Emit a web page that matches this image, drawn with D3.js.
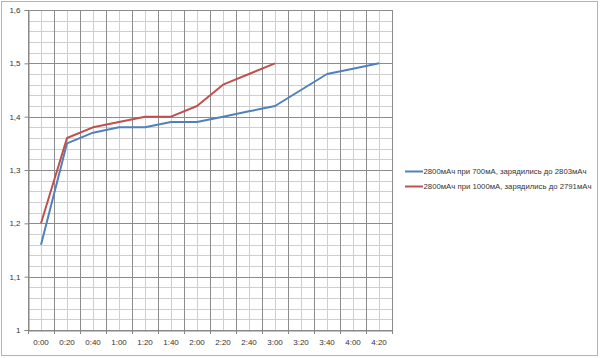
<!DOCTYPE html>
<html><head><meta charset="utf-8">
<script src="https://cdn.jsdelivr.net/npm/d3@7"></script>
<style>body{margin:0;background:#fff}svg{display:block}</style>
</head><body>
<svg id="c" width="600" height="358"></svg>
<script>
const categories = ["0:00","0:20","0:40","1:00","1:20","1:40","2:00","2:20","2:40","3:00","3:20","3:40","4:00","4:20"];
const series700 = [1.16,1.35,1.37,1.38,1.38,1.39,1.39,1.40,1.41,1.42,1.45,1.48,1.49,1.50];
const series1000 = [1.20,1.36,1.38,1.39,1.40,1.40,1.42,1.46,1.48,1.50];
const yTicks = [1,1.1,1.2,1.3,1.4,1.5,1.6];
const seriesNames = ["2800мАч при 700мА, зарядились до  2803мАч","2800мАч при 1000мА, зарядились до  2791мАч"];
const colors = ["#4F81BD","#C0504D"];

const svg = d3.select("#c");
const L=28, R=392, T=10, B=330;
const x = d3.scaleBand().domain(categories).range([L,R]).padding(0);
const y = d3.scaleLinear().domain([1,1.6]).range([B,T]);
const bw = x.bandwidth();
const font = "'Liberation Sans', Arial, sans-serif";

svg.append("rect").attr("x",1.5).attr("y",1.5).attr("width",596).attr("height",354)
  .attr("fill","#fff").attr("stroke","#b4b4b4").attr("stroke-width",1);

const g = svg.append("g");
// minor horizontal
const minorY = d3.range(0,31).map(i=>1+i*0.02).filter(v=>Math.abs(v*10-Math.round(v*10))>1e-6);
g.selectAll(".mh").data(minorY).join("line")
  .attr("x1",L).attr("x2",R).attr("y1",d=>Math.round(y(d))+0.5).attr("y2",d=>Math.round(y(d))+0.5)
  .attr("stroke","#cfcfcf");
// minor vertical at band centers
g.selectAll(".mv").data(categories).join("line")
  .attr("x1",d=>Math.round(x(d)+bw/2)+0.5).attr("x2",d=>Math.round(x(d)+bw/2)+0.5)
  .attr("y1",T).attr("y2",B).attr("stroke","#cfcfcf");
// major horizontal
g.selectAll(".Mh").data(yTicks).join("line")
  .attr("x1",L).attr("x2",R).attr("y1",d=>Math.round(y(d))+0.5).attr("y2",d=>Math.round(y(d))+0.5)
  .attr("stroke","#8c8c8c");
// major vertical at band edges
const edges = categories.map(c=>x(c)).concat([R]);
g.selectAll(".Mv").data(edges).join("line")
  .attr("x1",d=>Math.round(d)+0.5).attr("x2",d=>Math.round(d)+0.5)
  .attr("y1",T).attr("y2",B).attr("stroke","#8c8c8c");

// axes
const yAxis = d3.axisLeft(y).tickValues(yTicks).tickSize(4).tickPadding(4)
  .tickFormat(d=>d3.format(".1~f")(d).replace(".",","));
const ya = svg.append("g").attr("transform",`translate(${L+0.5},0)`).call(yAxis);
ya.selectAll("text").attr("font-family",font).attr("font-size",8).attr("fill","#333");
ya.selectAll("line,path").attr("stroke","#868686");

const xAxis = d3.axisBottom(x).tickSize(0).tickPadding(9);
const xa = svg.append("g").attr("transform",`translate(0,${B+0.5})`).call(xAxis);
xa.select("path").attr("stroke","#868686");
xa.selectAll("text").attr("font-family",font).attr("font-size",8).attr("fill","#333");
svg.append("g").selectAll("line").data(edges).join("line")
  .attr("x1",d=>Math.round(d)+0.5).attr("x2",d=>Math.round(d)+0.5)
  .attr("y1",B).attr("y2",B+4).attr("stroke","#868686");

// lines
const line = d3.line().x((d,i)=>x(categories[i])+bw/2).y(d=>y(d));
[series700, series1000].forEach((s,k)=>{
  svg.append("path").datum(s).attr("d",line).attr("fill","none")
    .attr("stroke",colors[k]).attr("stroke-width",2).attr("stroke-linejoin","round");
});

// legend
const lg = svg.append("g");
const ly = [171.5, 186.5];
seriesNames.forEach((n,k)=>{
  lg.append("line").attr("x1",405).attr("x2",423).attr("y1",ly[k]).attr("y2",ly[k])
    .attr("stroke",colors[k]).attr("stroke-width",2);
  lg.append("text").attr("x",423.5).attr("y",ly[k]).attr("dy","0.35em")
    .attr("font-family",font).attr("font-size",7).attr("fill","#333")
    .attr("textLength", k===0?163:168).attr("lengthAdjust","spacingAndGlyphs").text(n);
});
</script>
</body></html>
